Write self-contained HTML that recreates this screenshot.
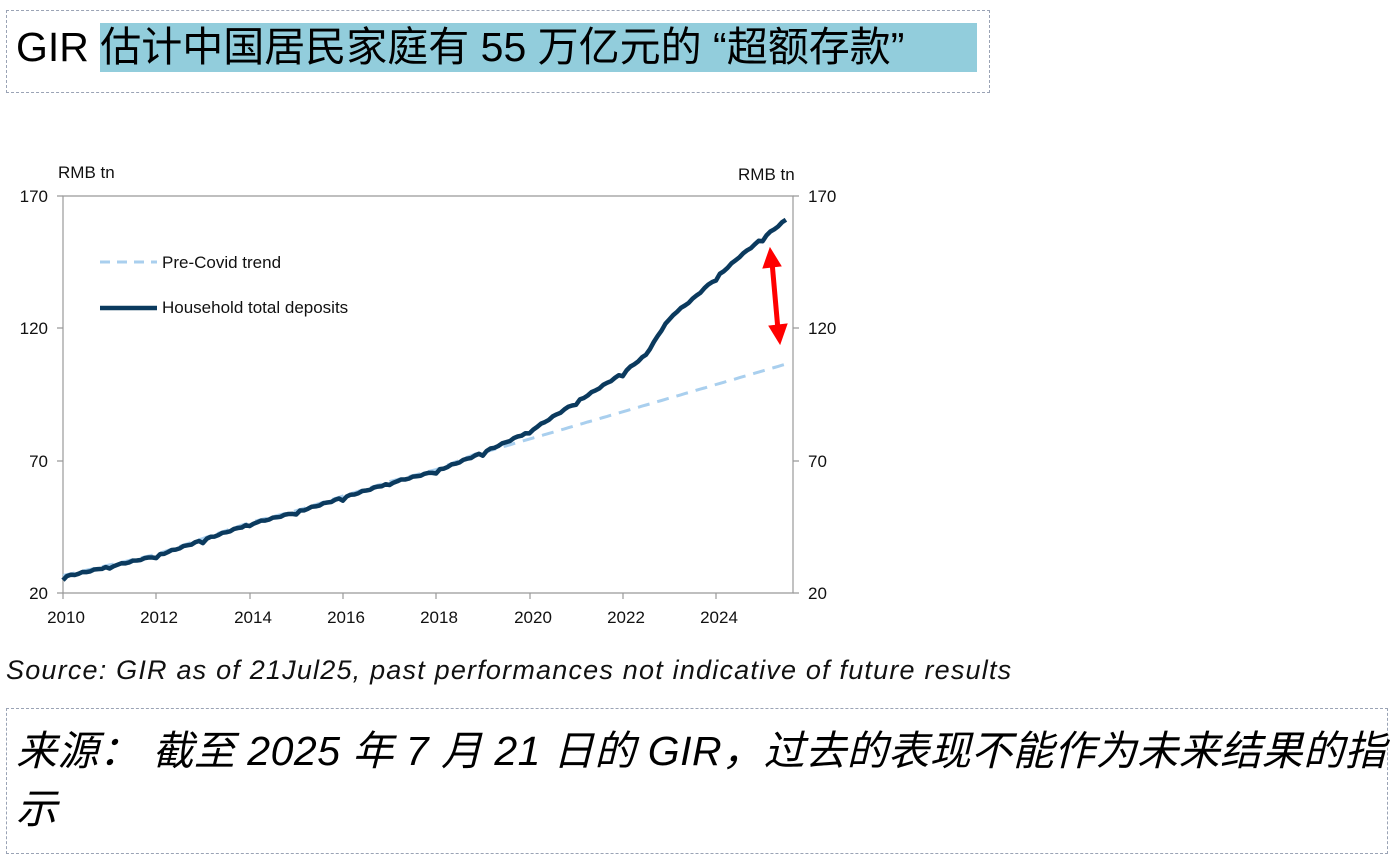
<!DOCTYPE html>
<html><head><meta charset="utf-8"><style>
body{margin:0;width:1390px;height:868px;background:#fff;position:relative;overflow:hidden;font-family:"Liberation Sans","Noto Sans CJK SC",sans-serif}
.box{position:absolute;border:1.5px dashed #9aa3b5}
.t{position:absolute;white-space:nowrap}
</style></head><body>
<div class="box" style="left:6px;top:10px;width:982px;height:81px"></div>
<div class="t" style="left:100px;top:23px;width:877px;height:49px;background:#92cddc"></div>
<div class="t" style="left:16px;top:20px;font-size:41px;line-height:54px;color:#000">GIR 估计中国居民家庭有 55 万亿元的 “超额存款”</div>
<svg class="t" style="left:0;top:0" width="1390" height="650">
<g font-family="Liberation Sans, Arial, sans-serif" font-size="17" fill="#111">
<text x="58" y="178">RMB tn</text>
<text x="738" y="180">RMB tn</text>
<text x="48" y="202" text-anchor="end">170</text>
<text x="48" y="334" text-anchor="end">120</text>
<text x="48" y="467" text-anchor="end">70</text>
<text x="48" y="599" text-anchor="end">20</text>
<text x="808" y="202">170</text>
<text x="808" y="334">120</text>
<text x="808" y="467">70</text>
<text x="808" y="599">20</text>
<text x="66" y="623" text-anchor="middle">2010</text>
<text x="159" y="623" text-anchor="middle">2012</text>
<text x="253" y="623" text-anchor="middle">2014</text>
<text x="346" y="623" text-anchor="middle">2016</text>
<text x="439" y="623" text-anchor="middle">2018</text>
<text x="533" y="623" text-anchor="middle">2020</text>
<text x="626" y="623" text-anchor="middle">2022</text>
<text x="719" y="623" text-anchor="middle">2024</text>
<text x="162" y="268">Pre-Covid trend</text>
<text x="162" y="313">Household total deposits</text>
</g>
<g stroke="#999" stroke-width="1.2" fill="none">
<path d="M63 196H793V593H63Z"/>
<path d="M57 196h6M57 328h6M57 461h6M57 593h6M793 196h6M793 328h6M793 461h6M793 593h6"/>
<path d="M63 593v6M156 593v6M250 593v6M343 593v6M436 593v6M530 593v6M623 593v6M716 593v6"/>
</g>
<line x1="100" y1="262" x2="157" y2="262" stroke="#a9cfee" stroke-width="3" stroke-dasharray="10,7"/>
<line x1="100" y1="308" x2="157" y2="308" stroke="#0b3a5e" stroke-width="4.5"/>
<path id="tr" fill="none" stroke="#a9cfee" stroke-width="3" stroke-dasharray="12,8"/>
<path id="hh" fill="none" stroke="#0b3a5e" stroke-width="4.5" stroke-linejoin="round"/>
<g fill="#f00" stroke="#f00">
<line x1="772" y1="262" x2="778" y2="330" stroke-width="5"/>
<polygon points="770,248 763,268 781,266" stroke-width="1"/>
<polygon points="780,344 787,324 769,326" stroke-width="1"/>
</g>
</svg>
<div class="t" style="left:6px;top:655px;font-size:27px;letter-spacing:1.2px;font-style:italic;color:#111">Source: GIR as of 21Jul25, past performances not indicative of future results</div>
<div class="box" style="left:6px;top:708px;width:1380px;height:144px"></div>
<div class="t" style="left:16px;top:722px;font-size:41px;line-height:58px;font-style:italic;color:#000;white-space:normal;width:1380px;letter-spacing:0.5px">来源： 截至 2025 年 7 月 21 日的 GIR，过去的表现不能作为未来结果的指示</div>
<script>
var X=y=>63+(y-2010)*46.64, Y=v=>593-(v-20)*2.647;
var k=[[2010,26],[2011,30],[2012,34],[2013,40],[2014,46],[2015,50.5],[2016,56],[2017,61.5],[2018,66],[2019,73],[2020,81],[2021,92],[2022,103],[2022.5,110],[2023,124],[2023.5,131],[2024,139],[2024.5,147],[2025,154],[2025.5,161]];
function f(t){for(var i=0;i<k.length-1;i++)if(t<=k[i+1][0]){var a=k[i],b=k[i+1];return a[1]+(b[1]-a[1])*(t-a[0])/(b[0]-a[0]);}return k[k.length-1][1];}
var d="";for(var t=2010;t<=2025.5;t+=1/12){var w=Math.sin(t*23)*0.25+((Math.round(t*12)%12==0)?-0.9:0);d+=(d?"L":"M")+X(t).toFixed(1)+" "+Y(f(t)+w).toFixed(1);}
document.getElementById("hh").setAttribute("d",d);
var e="";for(var t=2010;t<=2025.5;t+=1/12){var v=t<2019?f(t)+0.6:73+(t-2019)*5.15;e+=(e?"L":"M")+X(t).toFixed(1)+" "+Y(v).toFixed(1);}
document.getElementById("tr").setAttribute("d",e);
</script>
</body></html>
